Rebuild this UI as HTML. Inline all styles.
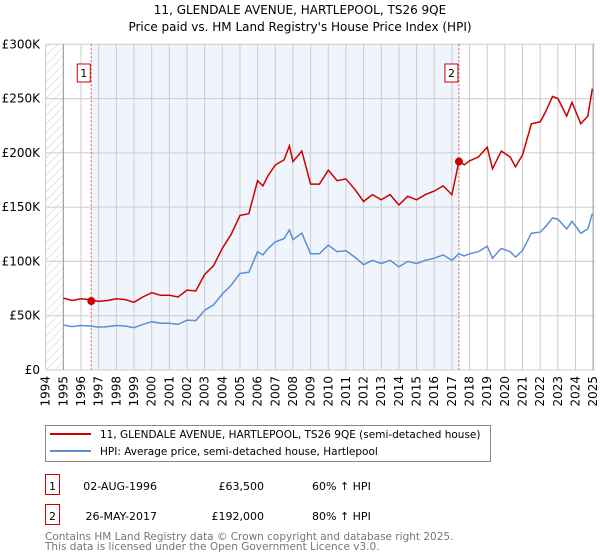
<!DOCTYPE html>
<html><head><meta charset="utf-8"><style>
body{margin:0;background:#fff;font-family:"DejaVu Sans","Liberation Sans",sans-serif;}
#wrap{position:relative;width:600px;height:560px;overflow:hidden;}
</style></head><body><div id="wrap">
<svg id="svg" width="600" height="560" style="position:absolute;left:0;top:0"></svg>
</div>
<script>
const hpiYears=[1995,1995.5,1996,1996.5,1997,1997.5,1998,1998.5,1999,1999.5,2000,2000.5,2001,2001.5,2002,2002.5,2003,2003.5,2004,2004.5,2005,2005.5,2006,2006.3,2006.6,2007,2007.5,2007.8,2008,2008.5,2009,2009.5,2010,2010.5,2011,2011.5,2012,2012.5,2013,2013.5,2014,2014.5,2015,2015.5,2016,2016.5,2017,2017.4,2017.7,2018,2018.5,2019,2019.3,2019.8,2020.3,2020.6,2021,2021.5,2022,2022.3,2022.7,2023,2023.5,2023.8,2024.3,2024.7,2024.95];
const hpiValues=[41.4,40,41,40.5,39.5,40,41,40.5,39,42,44.5,43,43,42,46,45.5,55,60,70,78,89,90,109,106,112,118,121,129,120,126,107,107,115,109,110,104,97,101,98,101,95,100,98,101,103,106,101,107,105,107,109,114,103,112,109,104,110,126,127,132,140,139,130,137,126,130,144];
const saleYears=[1996.58,2017.4];
const salePrices=[63.5,192];
const saleRatios=[1.6,1.8];
const yTicks=[0,50,100,150,200,250,300];
const yTickLabels=["£0","£50K","£100K","£150K","£200K","£250K","£300K"];
const xYears=[1994,1995,1996,1997,1998,1999,2000,2001,2002,2003,2004,2005,2006,2007,2008,2009,2010,2011,2012,2013,2014,2015,2016,2017,2018,2019,2020,2021,2022,2023,2024,2025];

const L=45.7,R=595,T=44.3,B=370;
const X=y=>45.7+(y-1994)*17.66;
const Y=v=>B-v*(B-T)/300;
const svg=document.getElementById('svg');
const NS='http://www.w3.org/2000/svg';
function el(tag,a,parent){const e=document.createElementNS(NS,tag);for(const k in a)e.setAttribute(k,a[k]);(parent||svg).appendChild(e);return e;}
const defs=el('defs',{});
const pat=el('pattern',{id:'hatch',width:6,height:6,patternUnits:'userSpaceOnUse',patternTransform:'rotate(45)'},defs);
el('line',{x1:0,y1:0,x2:0,y2:6,stroke:'#ccc','stroke-width':1},pat);
const hatch=el('rect',{x:L,y:T,width:X(1995)-L,height:B-T,fill:'url(#hatch)'});


const shade=el('rect',{x:X(saleYears[0]),y:T,width:X(saleYears[1])-X(saleYears[0]),height:B-T,fill:'#f0f4fd'});


xYears.forEach(yr=>{const g=el('line',{x1:X(yr),x2:X(yr),y1:T,y2:B,stroke:'#ccc','stroke-width':1});


const t=el('text',{x:0,y:0,transform:`translate(${X(yr)+4},${B+6}) rotate(-90)`,'text-anchor':'end','font-size':12,fill:'#000'});
t.textContent=yr;

});
yTicks.forEach((v,i)=>{const g=el('line',{x1:L,x2:R,y1:Y(v),y2:Y(v),stroke:'#ccc','stroke-width':1});


const t=el('text',{x:40,y:Y(v)+4,'text-anchor':'end','font-size':12,fill:'#000'});
t.textContent=yTickLabels[i];

});
const ax=el('line',{x1:X(1995),x2:X(1995),y1:T,y2:B,stroke:'#999','stroke-width':1});


const ax2=el('line',{x1:X(2025),x2:X(2025),y1:T,y2:B,stroke:'#999','stroke-width':1});


saleYears.forEach((sy,i)=>{const l=el('line',{x1:X(sy),x2:X(sy),y1:T,y2:B,stroke:'#e05050','stroke-width':1,'stroke-dasharray':'2,2'});


const bx=el('rect',{x:X(sy)-14,y:64,width:13,height:18,fill:'#fff',stroke:'#cc0000','stroke-width':1});


const t=el('text',{x:X(sy)-7.5,y:77,'text-anchor':'middle','font-size':11,fill:'#000'});t.textContent=i+1;

});
const hp=hpiYears.map((y,i)=>X(y).toFixed(1)+','+Y(hpiValues[i]).toFixed(1)).join(' ');
const hl=el('polyline',{points:hp,fill:'none',stroke:'#5b8ed6','stroke-width':1.5});


const rp=hpiYears.map((y,i)=>{const f=y<saleYears[1]?saleRatios[0]:saleRatios[1];return X(y).toFixed(1)+','+Y(hpiValues[i]*f).toFixed(1);});
let idx=hpiYears.findIndex(y=>y>=saleYears[1]);
rp.splice(idx,0,X(saleYears[1]).toFixed(1)+','+Y(salePrices[1]).toFixed(1));
const rl=el('polyline',{points:rp.join(' '),fill:'none',stroke:'#cc0000','stroke-width':1.5});


saleYears.forEach((sy,i)=>{const c=el('circle',{cx:X(sy),cy:Y(salePrices[i]),r:4,fill:'#cc0000'});

});
const lg=el('rect',{x:45.5,y:425.5,width:445,height:36,fill:'#fff',stroke:'#888','stroke-width':1});


[['#cc0000','11, GLENDALE AVENUE, HARTLEPOOL, TS26 9QE (semi-detached house)',434],['#5b8ed6','HPI: Average price, semi-detached house, Hartlepool',451]].forEach(d=>{
const l=el('line',{x1:50,x2:91,y1:d[2],y2:d[2],stroke:d[0],'stroke-width':2});


const t=el('text',{x:100,y:d[2]+4,'font-size':10.5,fill:'#000'});t.textContent=d[1];

});
[['11, GLENDALE AVENUE, HARTLEPOOL, TS26 9QE',14],['Price paid vs. HM Land Registry\'s House Price Index (HPI)',31]].forEach((d,i)=>{
const t=el('text',{x:300,y:d[1],'text-anchor':'middle','font-size':12,fill:'#000'});t.textContent=d[0];

});
[['1','02-AUG-1996','£63,500','60% ↑ HPI',486],['2','26-MAY-2017','£192,000','80% ↑ HPI',516]].forEach(r=>{
const b=el('rect',{x:45.5,y:r[4]-11.5,width:14,height:20,fill:'#fff',stroke:'#cc0000','stroke-width':1});


const a=el('text',{x:52.5,y:r[4]+4,'text-anchor':'middle','font-size':11});a.textContent=r[0];


const d=el('text',{x:157,y:r[4]+4,'text-anchor':'end','font-size':11});d.textContent=r[1];


const p=el('text',{x:264,y:r[4]+4,'text-anchor':'end','font-size':11});p.textContent=r[2];


const h=el('text',{x:312,y:r[4]+4,'font-size':11});h.textContent=r[3];

});
[['Contains HM Land Registry data © Crown copyright and database right 2025.',540],['This data is licensed under the Open Government Licence v3.0.',550]].forEach(d=>{
const t=el('text',{x:45,y:d[1],'font-size':10.5,fill:'#777'});t.textContent=d[0];

});
</script></body></html>
